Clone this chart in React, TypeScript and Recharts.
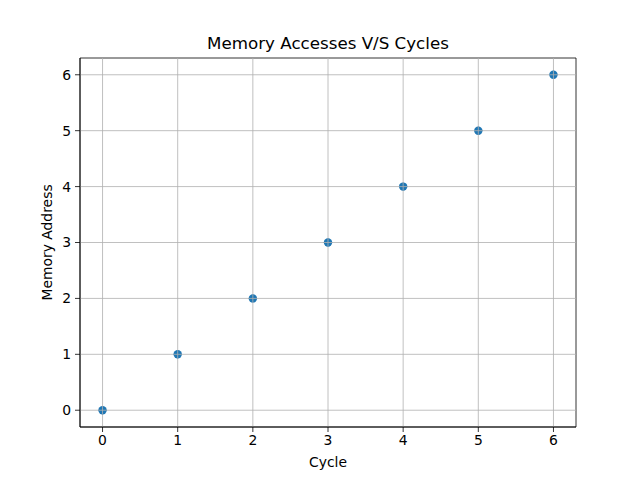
import { ScatterChart, Scatter, XAxis, YAxis, ReferenceLine, ReferenceArea } from "recharts";

const cycles = [0, 1, 2, 3, 4, 5, 6];
const addresses = [0, 1, 2, 3, 4, 5, 6];
const xTicks = [0, 1, 2, 3, 4, 5, 6];
const yTicks = [0, 1, 2, 3, 4, 5, 6];

const points = cycles.map((c, i) => ({ cycle: c, address: addresses[i] }));

const font = "DejaVu Sans, sans-serif";
const tickStyle = { fontSize: 13.9, fill: "#000", fontFamily: font };

// grid is drawn above the markers in the original, so redraw it across each dot
const Dot = (props: any) => {
  const { cx, cy } = props;
  const r = 4.2;
  return (
    <g>
      <circle cx={cx} cy={cy} r={r} fill="#1f77b4" />
      <line x1={cx - r} x2={cx + r} y1={cy} y2={cy} stroke="#b0b0b0" strokeWidth={0.8} />
      <line x1={cx} x2={cx} y1={cy - r} y2={cy + r} stroke="#b0b0b0" strokeWidth={0.8} />
    </g>
  );
};

export default function App() {
  return (
    <div style={{ position: "absolute", left: 0, top: 0, width: 640, height: 480, background: "#fff" }}>
      <div
        style={{
          position: "absolute",
          top: 33,
          left: 80,
          width: 496,
          textAlign: "center",
          fontFamily: font,
          fontSize: 16.7,
          color: "#000",
        }}
      >
        Memory Accesses V/S Cycles
      </div>
      <ScatterChart width={640} height={480} margin={{ top: 58, right: 64, left: 30, bottom: 23 }}>
        <XAxis
          type="number"
          dataKey="cycle"
          domain={[-0.3, 6.3]}
          ticks={xTicks}
          allowDataOverflow
          tick={tickStyle}
          tickLine={{ stroke: "#000", strokeWidth: 0.8 }}
          axisLine={{ stroke: "#000", strokeWidth: 0.8 }}
          tickSize={5}
          tickMargin={3}
          height={30}
          label={{ value: "Cycle", position: "insideBottom", offset: -10, style: { fontSize: 13.9, fill: "#000", fontFamily: font } }}
        />
        <YAxis
          type="number"
          dataKey="address"
          domain={[-0.3, 6.3]}
          ticks={yTicks}
          allowDataOverflow
          tick={tickStyle}
          tickLine={{ stroke: "#000", strokeWidth: 0.8 }}
          axisLine={{ stroke: "#000", strokeWidth: 0.8 }}
          tickSize={5}
          tickMargin={4}
          width={50}
          label={{ value: "Memory Address", angle: -90, position: "insideLeft", offset: 17, style: { fontSize: 13.9, fill: "#000", fontFamily: font, textAnchor: "middle" } }}
        />
        {xTicks.map((t) => (
          <ReferenceLine key={"x" + t} x={t} stroke="#b0b0b0" strokeWidth={0.8} />
        ))}
        {yTicks.map((t) => (
          <ReferenceLine key={"y" + t} y={t} stroke="#b0b0b0" strokeWidth={0.8} />
        ))}
        <Scatter data={points} shape={<Dot />} isAnimationActive={false} />
        <ReferenceArea x1={-0.3} x2={6.3} y1={-0.3} y2={6.3} fill="none" stroke="#000" strokeWidth={0.8} ifOverflow="visible" />
      </ScatterChart>
    </div>
  );
}
